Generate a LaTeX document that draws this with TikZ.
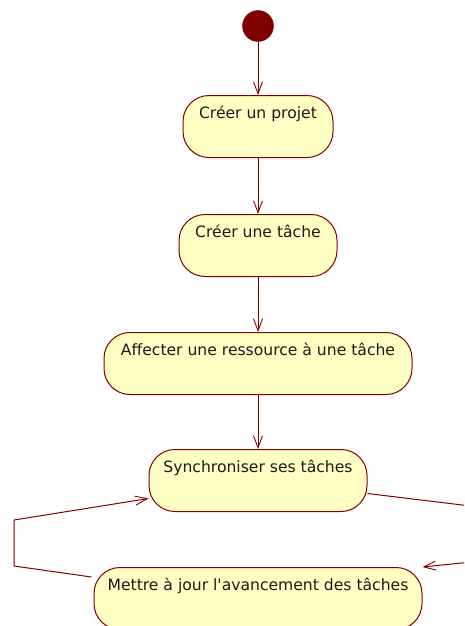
\documentclass[tikz,border=0pt]{standalone}
\usepackage{fontspec}
\setmainfont{DejaVu Sans}
\usetikzlibrary{arrows.meta,calc}
\definecolor{umlred}{HTML}{800000}
\definecolor{umlfill}{HTML}{FFFFC4}
\definecolor{umltext}{HTML}{1A1A1A}
\newcommand{\straightquote}{\XeTeXglyph\XeTeXglyphindex "quotesingle"\relax}
\begin{document}
\begin{tikzpicture}[x=1pt,y=1pt,
  act/.style={draw=umlred, fill=umlfill, line width=1pt, rounded corners=26pt,
    rectangle, anchor=north, inner sep=0pt, text height=23pt, text depth=39pt,
    text=umltext, font=\fontsize{15.6}{17}\selectfont},
  flow/.style={draw=umlred, line width=1pt, -{Straight Barb[length=12pt,width=9pt,line width=0.9pt]}},
  initial/.style={circle, fill=umlred, draw=umlred, minimum size=31pt, inner sep=0pt}]
\useasboundingbox (0,0) rectangle (464,-626);
\clip (0,0) rectangle (464,-626);
\node[initial] (init) at (258,-26) {};
\node[act, minimum width=150pt] (n1) at (258,-95) {Créer un projet};
\node[act, minimum width=158pt] (n2) at (258,-214) {Créer une tâche};
\node[act, minimum width=308pt] (n3) at (258,-332) {Affecter une ressource à une tâche};
\node[act, minimum width=218pt] (n4) at (258,-449) {Synchroniser ses tâches};
\node[act, minimum width=328pt] (n5) at (258,-567) {Mettre à jour l\straightquote avancement des tâches};
\draw[flow] (init.south) -- (n1.north);
\draw[flow] (n1.south) -- (n2.north);
\draw[flow] (n2.south) -- (n3.north);
\draw[flow] (n3.south) -- (n4.north);
% loop on the right, partly outside the picture
\coordinate (r1) at (520,-512);
\coordinate (r2) at (520,-557);
\draw[flow] ($(n4.east)+(0,-13)$) -- (r1) -- (r2) -- (n5.north east);
% loop on the left
\coordinate (l1) at (14,-566);
\coordinate (l2) at (14,-520);
\draw[flow] ($(n5.north west)+(-2,-10)$) -- (l1) -- (l2) -- ($(n4.west)+(0,-18)$);
\end{tikzpicture}
\end{document}
